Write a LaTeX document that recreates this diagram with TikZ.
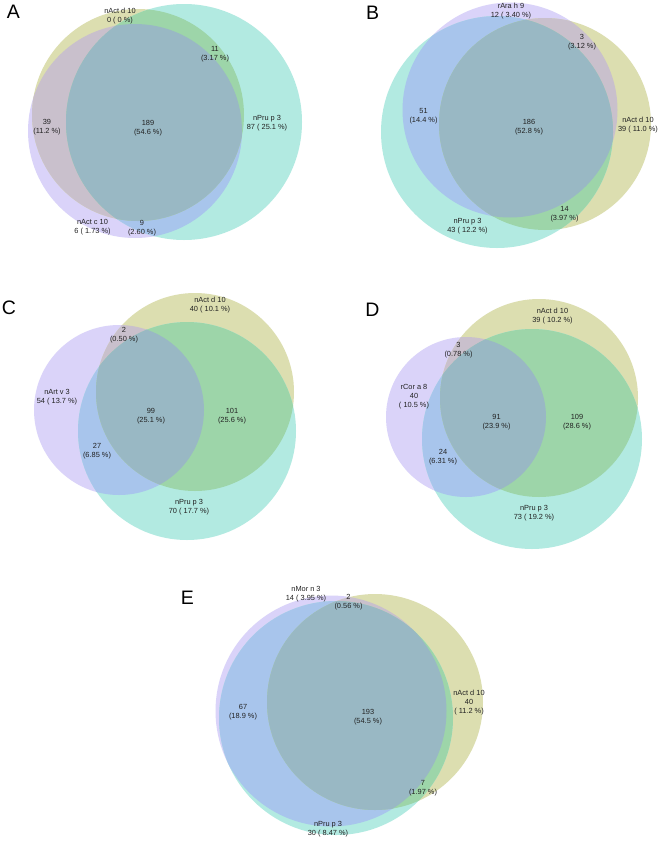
\documentclass[tikz,border=0pt]{standalone}
\usepackage{fontspec}
\setmainfont{Liberation Sans}
\definecolor{cP}{HTML}{DAD3F9}
\definecolor{cY}{HTML}{DCDEB0}
\definecolor{cT}{HTML}{B2EAE1}
\definecolor{cPT}{HTML}{A8C5EC}
\definecolor{cYT}{HTML}{9DD5A9}
\definecolor{cPY}{HTML}{C9C0CC}
\definecolor{cPYT}{HTML}{99B8C4}
\definecolor{txt}{HTML}{222222}
\newcommand{\myvenn}[9]{%
  \fill[cP] (#1,#2) circle[radius=#3pt];
  \fill[cY] (#4,#5) circle[radius=#6pt];
  \fill[cT] (#7,#8) circle[radius=#9pt];
  \begin{scope}
    \clip (#1,#2) circle[radius=#3pt];
    \fill[cPT] (#7,#8) circle[radius=#9pt];
  \end{scope}
  \begin{scope}
    \clip (#1,#2) circle[radius=#3pt];
    \fill[cPY] (#4,#5) circle[radius=#6pt];
  \end{scope}
  \begin{scope}
    \clip (#4,#5) circle[radius=#6pt];
    \fill[cYT] (#7,#8) circle[radius=#9pt];
  \end{scope}
  \begin{scope}
    \clip (#1,#2) circle[radius=#3pt];
    \clip (#4,#5) circle[radius=#6pt];
    \fill[cPYT] (#7,#8) circle[radius=#9pt];
  \end{scope}%
}
\begin{document}
\begin{tikzpicture}[x=1pt,y=-1pt,
  lbl/.style={font=\fontsize{7.4}{9}\selectfont, align=center, inner sep=0pt, text=txt},
  panel/.style={font=\fontsize{19.5}{19.5}\selectfont, inner sep=0pt, text=black}]
\useasboundingbox (0,0) rectangle (662,849);
\fill[white] (0,0) rectangle (662,849);
% Panel A
\myvenn{135}{131}{107}{138}{115}{106}{184}{122}{118}
\node[panel] (pA) at (13.5,12) {A};
\node[lbl] (aY) at (120,16.5) {nAct d 10\\0 ( 0 \%)};
\node[lbl] (a11) at (215,54) {11\\(3.17 \%)};
\node[lbl] (a39) at (47,127.5) {39\\(11.2 \%)};
\node[lbl] (a189) at (148,128) {189\\(54.6 \%)};
\node[lbl] (aT) at (267,123.5) {nPru p 3\\87 ( 25.1 \%)};
\node[lbl] (aP) at (92.5,227.5) {nAct c 10\\6 ( 1.73 \%)};
\node[lbl] (a9) at (142,228.5) {9\\(2.60 \%)};
% Panel B
\myvenn{510}{110}{107.5}{545}{124}{106}{497}{132}{116}
\node[panel] (pB) at (372.5,12.5) {B};
\node[lbl] (bP) at (511,11.5) {rAra h 9\\12 ( 3.40 \%)};
\node[lbl] (b3) at (582,42.5) {3\\(3.12 \%)};
\node[lbl] (b51) at (423.5,116.5) {51\\(14.4 \%)};
\node[lbl] (b186) at (529,127.5) {186\\(52.8 \%)};
\node[lbl] (bY) at (638,125) {nAct d 10\\39 ( 11.0 \%)};
\node[lbl] (b14) at (564.5,214.5) {14\\(3.97 \%)};
\node[lbl] (bT) at (467.5,226.5) {nPru p 3\\43 ( 12.2 \%)};
% Panel C
\myvenn{119}{410}{85}{195}{392}{99}{187}{431}{109}
\node[panel] (pC) at (9,308) {C};
\node[lbl] (cY) at (210,305) {nAct d 10\\40 ( 10.1 \%)};
\node[lbl] (c2) at (124,335) {2\\(0.50 \%)};
\node[lbl] (cP) at (57,397.5) {nArt v 3\\54 ( 13.7 \%)};
\node[lbl] (c99) at (151,416.5) {99\\(25.1 \%)};
\node[lbl] (c101) at (232,416.5) {101\\(25.6 \%)};
\node[lbl] (c27) at (97,451) {27\\(6.85 \%)};
\node[lbl] (cT) at (189,507.5) {nPru p 3\\70 ( 17.7 \%)};
% Panel D
\myvenn{466}{417}{80}{539}{398}{99}{532}{439}{110}
\node[panel] (pD) at (372.5,309.5) {D};
\node[lbl] (dY) at (552.5,316.5) {nAct d 10\\39 ( 10.2 \%)};
\node[lbl] (d3) at (458.5,350) {3\\(0.78 \%)};
\node[lbl] (dP) at (414,396.5) {rCor a 8\\40\\( 10.5 \%)};
\node[lbl] (d91) at (496.5,422.5) {91\\(23.9 \%)};
\node[lbl] (d109) at (577,422.5) {109\\(28.6 \%)};
\node[lbl] (d24) at (443,457) {24\\(6.31 \%)};
\node[lbl] (dT) at (534,513.5) {nPru p 3\\73 ( 19.2 \%)};
% Panel E
\myvenn{331}{711}{115.5}{375}{702}{108}{336}{718}{117}
\node[panel] (pE) at (187.5,598) {E};
\node[lbl] (eP) at (306,594) {nMor n 3\\14 ( 3.95 \%)};
\node[lbl] (e2) at (348.5,602.5) {2\\(0.56 \%)};
\node[lbl] (e67) at (243,712) {67\\(18.9 \%)};
\node[lbl] (e193) at (368,717) {193\\(54.5 \%)};
\node[lbl] (eY) at (469,703) {nAct d 10\\40\\( 11.2 \%)};
\node[lbl] (e7) at (423,788) {7\\(1.97 \%)};
\node[lbl] (eT) at (328,829.5) {nPru p 3\\30 ( 8.47 \%)};
\end{tikzpicture}
\end{document}
